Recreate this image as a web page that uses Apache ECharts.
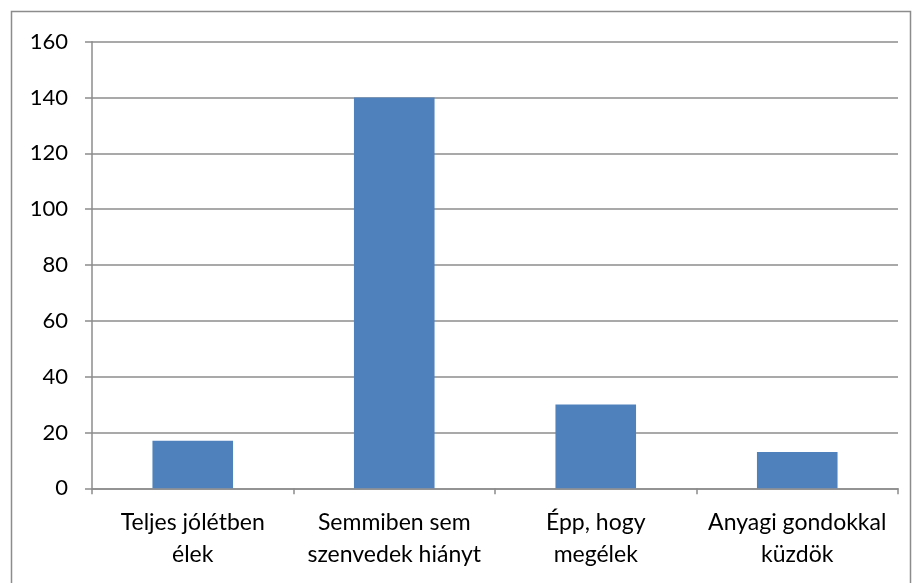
<!DOCTYPE html>
<html>
<head>
<meta charset="utf-8">
<script src="https://cdn.jsdelivr.net/npm/echarts@6/dist/echarts.min.js"></script>
<style>
  html, body { margin: 0; padding: 0; background: #fff; }
  #chart { width: 912px; height: 583px; }
</style>
</head>
<body>
<div id="chart"></div>
<script>
  // data
  const categories = ['Teljes jólétben\nélek', 'Semmiben sem\nszenvedek hiányt', 'Épp, hogy\nmegélek', 'Anyagi gondokkal\nküzdök']
  const values = [17, 140, 30, 13]

  const lineColor = '#8c8c8c'
  const font = 'Lato, "Open Sans", sans-serif'

  const chart = echarts.init(document.getElementById('chart'))
  chart.setOption({
    backgroundColor: '#fff',
    animation: false,
    graphic: [{
      type: 'rect',
      shape: { x: 11.5, y: 11.5, width: 899, height: 600 },
      style: { fill: 'none', stroke: lineColor, lineWidth: 1.5 },
      silent: true
    }],
    grid: {
      left: 92,
      right: 14,
      top: 41.7,
      bottom: 94.7
    },
    xAxis: {
      type: 'category',
      data: categories,
      axisLine: { lineStyle: { color: lineColor, width: 1.5 } },
      axisTick: { show: true, length: 6, lineStyle: { color: lineColor, width: 1.5 } },
      axisLabel: {
        interval: 0,
        margin: 18,
        color: '#000',
        fontFamily: font,
        fontSize: 23,
        lineHeight: 32
      },
      splitLine: { show: false }
    },
    yAxis: {
      type: 'value',
      min: 0,
      max: 160,
      interval: 20,
      axisLine: { show: true, lineStyle: { color: lineColor, width: 1.5 } },
      axisTick: { show: true, length: 7, lineStyle: { color: lineColor, width: 1.5 } },
      axisLabel: {
        margin: 24,
        color: '#000',
        fontFamily: font,
        fontSize: 22
      },
      splitLine: { lineStyle: { color: lineColor, width: 1.5 } }
    },
    series: [{
      type: 'bar',
      data: values,
      barWidth: '40%',
      itemStyle: { color: '#4f81bd' }
    }]
  })
</script>
</body>
</html>
